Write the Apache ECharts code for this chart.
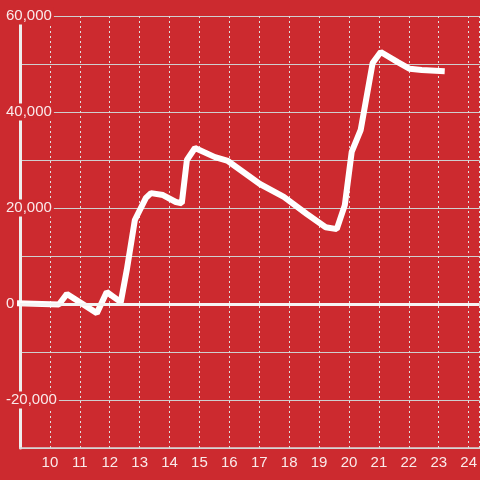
<!DOCTYPE html>
<html>
<head>
<meta charset="utf-8">
<script src="https://cdn.jsdelivr.net/npm/echarts@6/dist/echarts.min.js"></script>
<style>
	html, body { margin: 0; padding: 0; background: #cc2a2f; }
	#chart { width: 480px; height: 480px; }
</style>
</head>
<body>
<div id="chart"></div>
<script>
	// points
	var xValues = [8.9, 10.3, 10.34, 10.57, 11.57, 11.9, 12.37, 12.57, 12.84, 13.21, 13.38, 13.78, 14.21, 14.41,
		14.58, 14.85, 15.52, 15.95, 17.02, 17.82, 18.59, 19.22, 19.59, 19.86, 20.09, 20.39, 20.79, 21.06,
		21.63, 22.03, 22.43, 23.2];
	var yValues = [150, -100, -400, 2100, -1900, 2500, 400, 7100, 17500, 22100, 23100, 22700, 21250, 21000,
		30000, 32500, 30600, 29800, 25000, 22300, 18750, 16000, 15600, 20600, 31700, 36250, 50200, 52500,
		50400, 49000, 48750, 48500];
	var yLabelValues = [-20000, 0, 20000, 40000, 60000];

	var bg = '#cc2a2f';
	var fontColor = 'rgba(255,255,255,0.9)';

	var lineData = [];
	xValues.forEach(function (x, i) {
		lineData.push([x, yValues[i]]);
	});

	var option = {
		backgroundColor: bg,
		animation: false,
		grid: {
			left: 20,
			right: 0,
			top: 16,
			bottom: 32,
			containLabel: false
		},
		xAxis: {
			type: 'value',
			min: 9,
			max: 24.37,
			interval: 1,
			axisLine: { show: true, onZero: false, lineStyle: { color: '#d8d8d8', width: 1.5 } },
			axisTick: { show: false },
			axisLabel: {
				color: fontColor,
				fontSize: 15,
				fontFamily: 'Liberation Sans',
				margin: 7,
				showMinLabel: false,
				showMaxLabel: false
			},
			splitLine: {
				show: true,
				lineStyle: { color: '#e0e0e0', type: [2, 3], width: 1 }
			}
		},
		yAxis: {
			type: 'value',
			min: -30000,
			max: 60000,
			interval: 10000,
			axisLine: { show: true, lineStyle: { color: '#eeeeee', width: 3 } },
			axisTick: { show: false },
			axisLabel: {
				margin: 14,
				align: 'left',
				formatter: function (v) {
					if (yLabelValues.indexOf(v) < 0) return '';
					return '{a|' + v.toLocaleString('en-US') + '}';
				},
				rich: {
					a: {
						color: fontColor,
						fontSize: 15,
						fontFamily: 'Liberation Sans',
						backgroundColor: bg,
						lineHeight: 15,
						padding: [1, 2, 1, 0]
					}
				}
			},
			splitLine: {
				show: true,
				lineStyle: { color: '#cfcfcf', width: 1 }
			}
		},
		series: [{
			type: 'line',
			data: lineData,
			showSymbol: false,
			clip: false,
			z: 3,
			lineStyle: { color: '#ffffff', width: 6 },
			markLine: {
				silent: true,
				symbol: 'none',
				label: { show: false },
				lineStyle: { color: '#f5f5f5', width: 3, type: 'solid' },
				data: [{ yAxis: 0 }]
			}
		}]
	};

	var myChart = echarts.init(document.getElementById('chart'));
	myChart.setOption(option);
</script>
</body>
</html>
